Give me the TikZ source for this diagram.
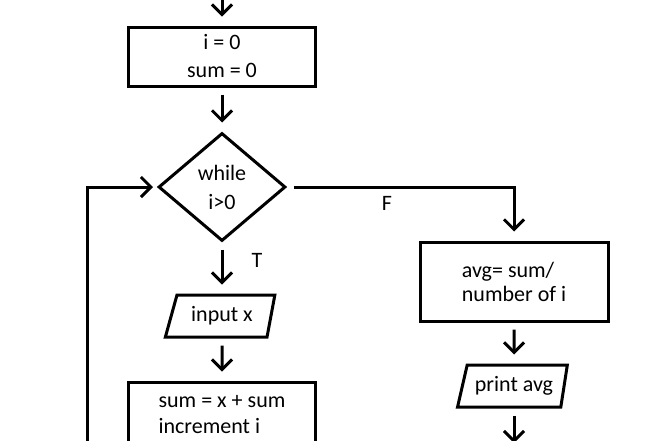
\documentclass[tikz,border=0pt]{standalone}
\usepackage{fontspec}
\setmainfont{Carlito}
\usetikzlibrary{arrows.meta,shapes.geometric}

\begin{document}
\begin{tikzpicture}[
    x=1pt, y=-1pt,
    font=\fontsize{22}{26}\selectfont,
    line width=3pt,
    box/.style={
        rectangle, draw, align=left,
        minimum width=187pt, inner sep=0pt
    },
    decision/.style={
        diamond, draw, align=center,
        minimum width=127pt, minimum height=108pt, inner sep=0pt
    },
    io/.style={
        trapezium, draw, trapezium stretches=true,
        trapezium left angle=67, trapezium right angle=106,
        minimum width=110pt, minimum height=42pt, inner sep=0pt
    },
    lbl/.style={inner sep=0pt},
    conn/.style={-{Straight Barb[length=10pt,width=20pt]}, shorten <=7pt, shorten >=9pt},
]

    % Frame: the picture is a cut-out, so clip to it.
    \path[use as bounding box, clip] (0,0) rectangle (660,440);

    % Column x-coordinates.
    \def\xMain{222}
    \def\xRight{514}
    \def\xLoop{87}

    % ---------- main column ----------
    \coordinate (start) at (\xMain, -8);
    \node[box, align=center, minimum height=59pt] (init) at (\xMain, 56.5) {i = 0\\[2pt]sum = 0};
    \node[decision] (while) at (\xMain, 187) {while\\[3pt]i>0};
    \node[io] (input) at (\xMain, 316) {input x};
    \node[box, minimum height=66pt] (sum) at (\xMain, 415) {sum = x + sum\\increment i};

    \draw[conn] (start) -- (init);
    \draw[conn] (init) -- (while);
    \draw[conn] (while) -- (input);
    \draw[conn] (input) -- (sum);

    % ---------- false branch ----------
    \node[box, minimum width=188pt, minimum height=79pt] (avg) at (\xRight, 281.5) {avg= sum/\\[-2pt]number of i};
    \node[io] (print) at (\xRight, 386) {print avg};
    \coordinate (printout) at (\xRight, 452);

    \draw[conn] (while) -| (avg);
    \draw[conn] (avg) -- (print);
    \draw[conn] (print) -- (printout);

    % ---------- loop back ----------
    \coordinate (loopin) at (\xLoop, 470);
    \draw[conn, shorten >=4pt] (loopin) |- (while);

    % ---------- labels ----------
    \node[lbl] (tlabel) at (257, 260) {T};
    \node[lbl] (flabel) at (387, 203) {F};

\end{tikzpicture}
\end{document}
